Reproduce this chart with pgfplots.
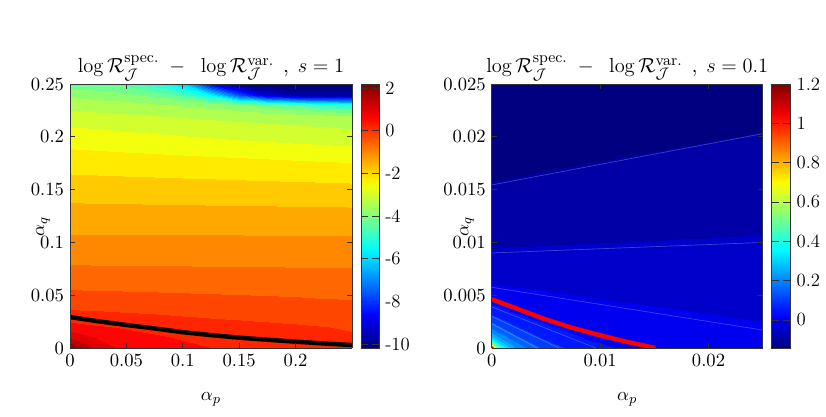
\documentclass[border=0pt]{standalone}
\usepackage{amsmath}
\usepackage{pgfplots}
\pgfplotsset{compat=1.18}
\pgfplotsset{colormap/jet}
\pgfplotsset{
  mybase/.style={
    scale only axis, view={0}{90}, axis on top,
    anchor=south west,
    height=155.29pt,
    tick align=inside,
    axis line style={draw=black!80},
    every tick/.style={draw=black!80, line width=0.4pt},
    major tick length=3pt,
    scaled ticks=false,
    tick label style={font=\fontsize{11}{13}\selectfont, /pgf/number format/fixed, /pgf/number format/precision=3},
    label style={font=\fontsize{11}{13}\selectfont},
    title style={font=\fontsize{13}{15}\selectfont, at={(0.5,1)}, anchor=base, yshift=0.8pt},
    xlabel style={at={(0.5,0)}, anchor=base, yshift=-31pt},
    colorbar,
  }
}
\begin{document}
\begin{tikzpicture}
\path[use as bounding box] (0,0) rectangle (485.88pt,244.71pt);
\begin{axis}[mybase,
  at={(41.18pt,40pt)}, width=165.88pt,
  xmin=0, xmax=0.25, ymin=0, ymax=0.25,
  xtick={0,0.05,0.1,0.15,0.2},
  ytick={0,0.05,0.1,0.15,0.2,0.25},
  ylabel style={at={(axis description cs:-0.096,0.46)}, anchor=center},
  colormap={jetA}{samples of colormap=(32 of jet)},
  point meta min=-10.18, point meta max=2.19,
  colorbar style={at={(parent axis.north east)}, anchor=north west, xshift=-3.2pt,
    width=10.76pt, ytick={-10,-8,-6,-4,-2,0,2}, yticklabels={-10,-8,-6,-4,-2,0,2},
    yticklabel style={font=\fontsize{11}{13}\selectfont},
    axis line style={draw=black!80}},
  title={$\log\mathcal{R}^{\text{spec.}}_{\mathcal{J}}\hspace{0.25em}-\hspace{0.5em}\log\mathcal{R}^{\text{var.}}_{\mathcal{J}}\hspace{0.4em}$,\hspace{0.4em}$s=1$},
  xlabel={$\alpha_p$}, ylabel={$\alpha_q$},
]
\addplot3[surf, shader=interp, colormap access=piecewise constant, mesh/cols=11, point meta=\thisrow{z}]
table[row sep=\\]{x y z\\
0 0 2.10\\ 0.025 0 0.85\\ 0.05 0 0.55\\ 0.075 0 0.42\\ 0.1 0 0.32\\ 0.125 0 0.26\\ 0.15 0 0.20\\ 0.175 0 0.15\\ 0.2 0 0.10\\ 0.225 0 0.05\\ 0.25 0 0.00\\
0 0.005 1.40\\ 0.025 0.005 0.72\\ 0.05 0.005 0.48\\ 0.075 0.005 0.37\\ 0.1 0.005 0.28\\ 0.125 0.005 0.22\\ 0.15 0.005 0.16\\ 0.175 0.005 0.11\\ 0.2 0.005 0.06\\ 0.225 0.005 0.01\\ 0.25 0.005 -0.04\\
0 0.01 0.99\\ 0.025 0.01 0.60\\ 0.05 0.01 0.41\\ 0.075 0.01 0.30\\ 0.1 0.01 0.22\\ 0.125 0.01 0.15\\ 0.15 0.01 0.09\\ 0.175 0.01 0.04\\ 0.2 0.01 -0.01\\ 0.225 0.01 -0.05\\ 0.25 0.01 -0.08\\
0 0.02 0.41\\ 0.025 0.02 0.30\\ 0.05 0.02 0.22\\ 0.075 0.02 0.15\\ 0.1 0.02 0.09\\ 0.125 0.02 0.04\\ 0.15 0.02 0.00\\ 0.175 0.02 -0.04\\ 0.2 0.02 -0.08\\ 0.225 0.02 -0.12\\ 0.25 0.02 -0.17\\
0 0.03 0.06\\ 0.025 0.03 0.00\\ 0.05 0.03 -0.05\\ 0.075 0.03 -0.09\\ 0.1 0.03 -0.13\\ 0.125 0.03 -0.17\\ 0.15 0.03 -0.20\\ 0.175 0.03 -0.23\\ 0.2 0.03 -0.26\\ 0.225 0.03 -0.30\\ 0.25 0.03 -0.33\\
0 0.04 -0.22\\ 0.025 0.04 -0.24\\ 0.05 0.04 -0.26\\ 0.075 0.04 -0.28\\ 0.1 0.04 -0.30\\ 0.125 0.04 -0.32\\ 0.15 0.04 -0.35\\ 0.175 0.04 -0.37\\ 0.2 0.04 -0.39\\ 0.225 0.04 -0.42\\ 0.25 0.04 -0.44\\
0 0.06 -0.60\\ 0.025 0.06 -0.61\\ 0.05 0.06 -0.62\\ 0.075 0.06 -0.63\\ 0.1 0.06 -0.64\\ 0.125 0.06 -0.645\\ 0.15 0.06 -0.65\\ 0.175 0.06 -0.66\\ 0.2 0.06 -0.67\\ 0.225 0.06 -0.68\\ 0.25 0.06 -0.69\\
0 0.08 -0.915\\ 0.025 0.08 -0.918\\ 0.05 0.08 -0.922\\ 0.075 0.08 -0.925\\ 0.1 0.08 -0.929\\ 0.125 0.08 -0.932\\ 0.15 0.08 -0.936\\ 0.175 0.08 -0.939\\ 0.2 0.08 -0.943\\ 0.225 0.08 -0.946\\ 0.25 0.08 -0.95\\
0 0.1 -1.19\\ 0.025 0.1 -1.192\\ 0.05 0.1 -1.194\\ 0.075 0.1 -1.196\\ 0.1 0.1 -1.198\\ 0.125 0.1 -1.2\\ 0.15 0.1 -1.202\\ 0.175 0.1 -1.204\\ 0.2 0.1 -1.206\\ 0.225 0.1 -1.208\\ 0.25 0.1 -1.21\\
0 0.12 -1.45\\ 0.025 0.12 -1.452\\ 0.05 0.12 -1.454\\ 0.075 0.12 -1.456\\ 0.1 0.12 -1.458\\ 0.125 0.12 -1.46\\ 0.15 0.12 -1.462\\ 0.175 0.12 -1.464\\ 0.2 0.12 -1.466\\ 0.225 0.12 -1.468\\ 0.25 0.12 -1.47\\
0 0.14 -1.71\\ 0.025 0.14 -1.717\\ 0.05 0.14 -1.724\\ 0.075 0.14 -1.731\\ 0.1 0.14 -1.738\\ 0.125 0.14 -1.745\\ 0.15 0.14 -1.752\\ 0.175 0.14 -1.759\\ 0.2 0.14 -1.766\\ 0.225 0.14 -1.773\\ 0.25 0.14 -1.78\\
0 0.16 -1.99\\ 0.025 0.16 -2.004\\ 0.05 0.16 -2.018\\ 0.075 0.16 -2.032\\ 0.1 0.16 -2.046\\ 0.125 0.16 -2.06\\ 0.15 0.16 -2.074\\ 0.175 0.16 -2.088\\ 0.2 0.16 -2.102\\ 0.225 0.16 -2.116\\ 0.25 0.16 -2.13\\
0 0.18 -2.29\\ 0.025 0.18 -2.315\\ 0.05 0.18 -2.34\\ 0.075 0.18 -2.365\\ 0.1 0.18 -2.39\\ 0.125 0.18 -2.415\\ 0.15 0.18 -2.44\\ 0.175 0.18 -2.465\\ 0.2 0.18 -2.49\\ 0.225 0.18 -2.515\\ 0.25 0.18 -2.54\\
0 0.2 -2.65\\ 0.025 0.2 -2.69\\ 0.05 0.2 -2.73\\ 0.075 0.2 -2.77\\ 0.1 0.2 -2.81\\ 0.125 0.2 -2.855\\ 0.15 0.2 -2.9\\ 0.175 0.2 -2.94\\ 0.2 0.2 -2.98\\ 0.225 0.2 -3.02\\ 0.25 0.2 -3.06\\
0 0.21 -2.85\\ 0.025 0.21 -2.89\\ 0.05 0.21 -2.94\\ 0.075 0.21 -2.98\\ 0.1 0.21 -3.02\\ 0.125 0.21 -3.07\\ 0.15 0.21 -3.11\\ 0.175 0.21 -3.15\\ 0.2 0.21 -3.19\\ 0.225 0.21 -3.24\\ 0.25 0.21 -3.28\\
0 0.22 -3.07\\ 0.025 0.22 -3.12\\ 0.05 0.22 -3.17\\ 0.075 0.22 -3.21\\ 0.1 0.22 -3.26\\ 0.125 0.22 -3.31\\ 0.15 0.22 -3.36\\ 0.175 0.22 -3.41\\ 0.2 0.22 -3.46\\ 0.225 0.22 -3.51\\ 0.25 0.22 -3.55\\
0 0.23 -3.35\\ 0.025 0.23 -3.40\\ 0.05 0.23 -3.45\\ 0.075 0.23 -3.55\\ 0.1 0.23 -3.65\\ 0.125 0.23 -3.75\\ 0.15 0.23 -3.90\\ 0.175 0.23 -4.10\\ 0.2 0.23 -4.40\\ 0.225 0.23 -4.80\\ 0.25 0.23 -5.00\\
0 0.24 -3.70\\ 0.025 0.24 -3.80\\ 0.05 0.24 -3.90\\ 0.075 0.24 -4.10\\ 0.1 0.24 -4.50\\ 0.125 0.24 -5.50\\ 0.15 0.24 -7.50\\ 0.175 0.24 -9.00\\ 0.2 0.24 -9.50\\ 0.225 0.24 -9.50\\ 0.25 0.24 -9.50\\
0 0.25 -4.15\\ 0.025 0.25 -4.30\\ 0.05 0.25 -4.50\\ 0.075 0.25 -5.00\\ 0.1 0.25 -6.00\\ 0.125 0.25 -8.50\\ 0.15 0.25 -10.0\\ 0.175 0.25 -10.15\\ 0.2 0.25 -10.15\\ 0.225 0.25 -10.15\\ 0.25 0.25 -10.15\\
};
\addplot3[black, line width=2.6pt, no marks] coordinates {
(0,0.0293,0) (0.025,0.0253,0) (0.05,0.0218,0) (0.075,0.0185,0) (0.1,0.0150,0) (0.125,0.0122,0) (0.15,0.0098,0) (0.175,0.0078,0) (0.2,0.0060,0) (0.225,0.0043,0) (0.25,0.0028,0)};
\end{axis}

\begin{axis}[mybase,
  at={(289.24pt,40pt)}, width=159.41pt,
  xmin=0, xmax=0.025, ymin=0, ymax=0.025,
  xtick={0,0.01,0.02},
  ytick={0,0.005,0.01,0.015,0.02,0.025},
  ylabel style={at={(axis description cs:-0.091,0.46)}, anchor=center},
  colormap={jetB}{samples of colormap=(28 of jet)},
  point meta min=-0.143, point meta max=1.2,
  colorbar style={at={(parent axis.north east)}, anchor=north west, xshift=-3.3pt,
    width=11.18pt, ytick={0,0.2,0.4,0.6,0.8,1,1.2}, yticklabels={0,0.2,0.4,0.6,0.8,1,1.2},
    yticklabel style={font=\fontsize{11}{13}\selectfont},
    axis line style={draw=black!80}},
  title={$\log\mathcal{R}^{\text{spec.}}_{\mathcal{J}}\hspace{0.25em}-\hspace{0.5em}\log\mathcal{R}^{\text{var.}}_{\mathcal{J}}\hspace{0.4em}$,\hspace{0.4em}$s=0.1$},
  xlabel={$\alpha_p$}, ylabel={$\alpha_q$},
]
\addplot3[surf, shader=interp, colormap access=piecewise constant, mesh/cols=14, point meta=\thisrow{z}]
table[row sep=\\]{x y z\\
0 0 1.2\\ 0.0003 0 0.75\\ 0.0006 0 0.5534\\ 0.0012 0 0.3544\\ 0.0021 0 0.2549\\ 0.0029 0 0.2052\\ 0.0042 0 0.1555\\ 0.0062 0 0.1057\\ 0.0096 0 0.056\\ 0.0125 0 0.045\\ 0.015 0 0.035\\ 0.0175 0 0.028\\ 0.02 0 0.022\\ 0.025 0 0.015\\
0 0.0004 0.5534\\ 0.0003 0.0002 0.5534\\ 0.0006 0 0.5534\\ 0.0012 0 0.3544\\ 0.0021 0 0.2549\\ 0.0029 0 0.2052\\ 0.0042 0 0.1555\\ 0.0062 0 0.1057\\ 0.0096 0 0.056\\ 0.0125 0 0.045\\ 0.015 0 0.035\\ 0.0175 0 0.028\\ 0.02 0 0.022\\ 0.025 0 0.015\\
0 0.0008 0.3544\\ 0.0003 0.0006 0.3544\\ 0.0006 0.0004 0.3544\\ 0.0012 0 0.3544\\ 0.0021 0 0.2549\\ 0.0029 0 0.2052\\ 0.0042 0 0.1555\\ 0.0062 0 0.1057\\ 0.0096 0 0.056\\ 0.0125 0 0.045\\ 0.015 0 0.035\\ 0.0175 0 0.028\\ 0.02 0 0.022\\ 0.025 0 0.015\\
0 0.0013 0.2549\\ 0.0003 0.001114 0.2549\\ 0.0006 0.000929 0.2549\\ 0.0012 0.000557 0.2549\\ 0.0021 0 0.2549\\ 0.0029 0 0.2052\\ 0.0042 0 0.1555\\ 0.0062 0 0.1057\\ 0.0096 0 0.056\\ 0.0125 0 0.045\\ 0.015 0 0.035\\ 0.0175 0 0.028\\ 0.02 0 0.022\\ 0.025 0 0.015\\
0 0.0017 0.2052\\ 0.0003 0.001524 0.2052\\ 0.0006 0.001348 0.2052\\ 0.0012 0.000997 0.2052\\ 0.0021 0.000469 0.2052\\ 0.0029 0 0.2052\\ 0.0042 0 0.1555\\ 0.0062 0 0.1057\\ 0.0096 0 0.056\\ 0.0125 0 0.045\\ 0.015 0 0.035\\ 0.0175 0 0.028\\ 0.02 0 0.022\\ 0.025 0 0.015\\
0 0.0023 0.1555\\ 0.0003 0.002136 0.1555\\ 0.0006 0.001971 0.1555\\ 0.0012 0.001643 0.1555\\ 0.0021 0.00115 0.1555\\ 0.0029 0.000712 0.1555\\ 0.0042 0 0.1555\\ 0.0062 0 0.1057\\ 0.0096 0 0.056\\ 0.0125 0 0.045\\ 0.015 0 0.035\\ 0.0175 0 0.028\\ 0.02 0 0.022\\ 0.025 0 0.015\\
0 0.003 0.1057\\ 0.0003 0.002855 0.1057\\ 0.0006 0.00271 0.1057\\ 0.0012 0.00242 0.1057\\ 0.0021 0.001984 0.1057\\ 0.0029 0.001597 0.1057\\ 0.0042 0.000968 0.1057\\ 0.0062 0 0.1057\\ 0.0096 0 0.056\\ 0.0125 0 0.045\\ 0.015 0 0.035\\ 0.0175 0 0.028\\ 0.02 0 0.022\\ 0.025 0 0.015\\
0 0.0039 0.056\\ 0.0003 0.003778 0.056\\ 0.0006 0.003656 0.056\\ 0.0012 0.003413 0.056\\ 0.0021 0.003047 0.056\\ 0.0029 0.002722 0.056\\ 0.0042 0.002194 0.056\\ 0.0062 0.001381 0.056\\ 0.0096 0 0.056\\ 0.0125 0 0.045\\ 0.015 0 0.035\\ 0.0175 0 0.028\\ 0.02 0 0.022\\ 0.025 0 0.015\\
0 0.00575 0.0062\\ 0.0003 0.005701 0.0062\\ 0.0006 0.005653 0.0062\\ 0.0012 0.005556 0.0062\\ 0.0021 0.00541 0.0062\\ 0.0029 0.00528 0.0062\\ 0.0042 0.00507 0.0062\\ 0.0062 0.004746 0.0062\\ 0.0096 0.004195 0.0062\\ 0.0125 0.003725 0.0062\\ 0.015 0.00332 0.0062\\ 0.0175 0.002915 0.0062\\ 0.02 0.00251 0.0062\\ 0.025 0.0017 0.0062\\
0 0.009 -0.0435\\ 0.0003 0.009012 -0.0435\\ 0.0006 0.009024 -0.0435\\ 0.0012 0.009048 -0.0435\\ 0.0021 0.009084 -0.0435\\ 0.0029 0.009116 -0.0435\\ 0.0042 0.009168 -0.0435\\ 0.0062 0.009248 -0.0435\\ 0.0096 0.009384 -0.0435\\ 0.0125 0.0095 -0.0435\\ 0.015 0.0096 -0.0435\\ 0.0175 0.0097 -0.0435\\ 0.02 0.0098 -0.0435\\ 0.025 0.01 -0.0435\\
0 0.01544 -0.0933\\ 0.0003 0.0155 -0.0933\\ 0.0006 0.01556 -0.0933\\ 0.0012 0.01567 -0.0933\\ 0.0021 0.01585 -0.0933\\ 0.0029 0.0160 -0.0933\\ 0.0042 0.01626 -0.0933\\ 0.0062 0.01665 -0.0933\\ 0.0096 0.01731 -0.0933\\ 0.0125 0.01787 -0.0933\\ 0.015 0.01836 -0.0933\\ 0.0175 0.01884 -0.0933\\ 0.02 0.01933 -0.0933\\ 0.025 0.0203 -0.0933\\
0 0.025 -0.142\\ 0.0003 0.025 -0.142\\ 0.0006 0.025 -0.142\\ 0.0012 0.025 -0.142\\ 0.0021 0.025 -0.142\\ 0.0029 0.025 -0.142\\ 0.0042 0.025 -0.142\\ 0.0062 0.025 -0.142\\ 0.0096 0.025 -0.142\\ 0.0125 0.025 -0.142\\ 0.015 0.025 -0.142\\ 0.0175 0.025 -0.142\\ 0.02 0.025 -0.142\\ 0.025 0.025 -0.142\\
};
\addplot3[white, opacity=0.25, line width=0.4pt, no marks] coordinates {
(0,0.01544,0) (0.0042,0.01626,0) (0.0096,0.01731,0) (0.015,0.01836,0) (0.02,0.01933,0) (0.025,0.0203,0)};
\addplot3[white, opacity=0.25, line width=0.4pt, no marks] coordinates {
(0,0.009,0) (0.0096,0.009384,0) (0.025,0.01,0)};
\addplot3[white, opacity=0.25, line width=0.4pt, no marks] coordinates {
(0,0.00575,0) (0.0096,0.004195,0) (0.025,0.0017,0)};
\addplot3[white, opacity=0.25, line width=0.4pt, no marks] coordinates {
(0,0.0039,0) (0.0029,0.002722,0) (0.0062,0.001381,0) (0.0096,0,0)};
\addplot3[white, opacity=0.25, line width=0.4pt, no marks] coordinates {
(0,0.003,0) (0.0029,0.001597,0) (0.0062,0,0)};
\addplot3[white, opacity=0.25, line width=0.4pt, no marks] coordinates {
(0,0.0023,0) (0.0021,0.00115,0) (0.0042,0,0)};
\addplot3[red, line width=2.6pt, no marks] coordinates {
(0,0.00461,0) (0.0024,0.0037,0) (0.0047,0.00281,0) (0.0073,0.00195,0) (0.0099,0.00123,0) (0.0125,0.00058,0) (0.0151,0,0)};
\end{axis}
\end{tikzpicture}
\end{document}
